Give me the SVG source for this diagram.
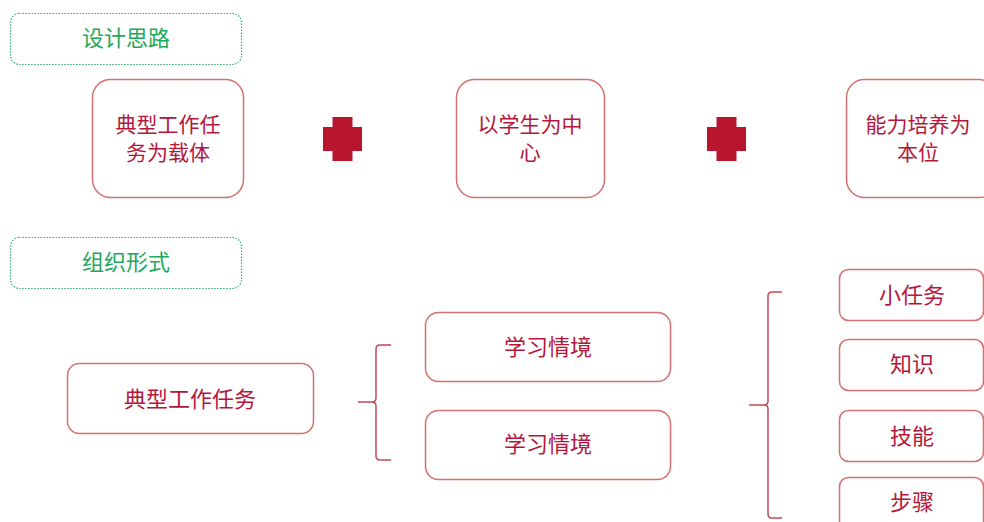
<svg xmlns="http://www.w3.org/2000/svg" width="984" height="522" viewBox="0 0 984 522">
<style>
.g{fill:#fff;stroke:#35b06a;stroke-width:1.2;stroke-dasharray:1.5 1.5}
.gt{fill:#1ea85a;font-family:"Noto Sans CJK SC","Noto Sans",sans-serif;font-size:22px;text-anchor:middle;dominant-baseline:central}
.b{fill:#fff;stroke:#d4706f;stroke-width:1.5}
.t{fill:#b3173b;font-family:"Noto Sans CJK SC","Noto Sans",sans-serif;font-size:22px;text-anchor:middle;dominant-baseline:central}
.t2{fill:#b3173b;font-family:"Noto Sans CJK SC","Noto Sans",sans-serif;font-size:21px;text-anchor:middle;dominant-baseline:central}
.x{fill:#b8152f}
.br{fill:none;stroke:#c2485a;stroke-width:1.5}
</style>
<g id="label-design"><rect class="g" x="10.5" y="13.5" width="231" height="51" rx="9"/><text class="gt" x="126" y="36">设计思路</text></g>
<g id="label-org"><rect class="g" x="10.5" y="237.5" width="231" height="51" rx="9"/><text class="gt" x="126" y="260">组织形式</text></g>
<g id="n-task-carrier"><rect class="b" x="92.5" y="79.5" width="151" height="118" rx="18"/><text class="t2" x="168" y="123">典型工作任</text><text class="t2" x="168" y="151">务为载体</text></g>
<g id="plus1"><path class="x" d="M332.5 117H352.5V127H362V151H352.5V161H332.5V151H323V127H332.5Z"/></g>
<g id="n-student"><rect class="b" x="456.5" y="79.5" width="148" height="118" rx="18"/><text class="t2" x="530" y="123">以学生为中</text><text class="t2" x="530" y="151">心</text></g>
<g id="plus2"><path class="x" d="M716.5 117H736.5V127H746V151H736.5V161H716.5V151H707V127H716.5Z"/></g>
<g id="n-ability"><rect class="b" x="846.5" y="79.5" width="150" height="118" rx="18"/><text class="t2" x="918" y="123">能力培养为</text><text class="t2" x="918" y="151">本位</text></g>
<g id="n-typical"><rect class="b" x="67.5" y="363.5" width="246" height="70" rx="12"/><text class="t" x="190" y="397">典型工作任务</text></g>
<g id="n-situation1"><rect class="b" x="425.5" y="312.5" width="245" height="69" rx="13"/><text class="t" x="548" y="345">学习情境</text></g>
<g id="n-situation2"><rect class="b" x="425.5" y="410.5" width="245" height="69" rx="13"/><text class="t" x="548" y="442">学习情境</text></g>
<g id="n-subtask"><rect class="b" x="839.5" y="269.5" width="144" height="51" rx="9"/><text class="t" x="912" y="293">小任务</text></g>
<g id="n-knowledge"><rect class="b" x="839.5" y="339.5" width="144" height="51" rx="9"/><text class="t" x="912" y="362">知识</text></g>
<g id="n-skill"><rect class="b" x="839.5" y="410.5" width="144" height="51" rx="9"/><text class="t" x="912" y="434">技能</text></g>
<g id="n-steps"><rect class="b" x="839.5" y="477.5" width="144" height="60" rx="9"/><text class="t" x="912" y="500">步骤</text></g>
<g id="connectors">
<path class="br" d="M391 345H380Q376 345 376 349V398Q376 402 372 402H358M372 402Q376 402 376 406V456Q376 460 380 460H391"/>
<path class="br" d="M782 292H772Q768 292 768 296V401Q768 405 764 405H749M764 405Q768 405 768 409V514Q768 518 772 518H782"/>
</g>
</svg>
